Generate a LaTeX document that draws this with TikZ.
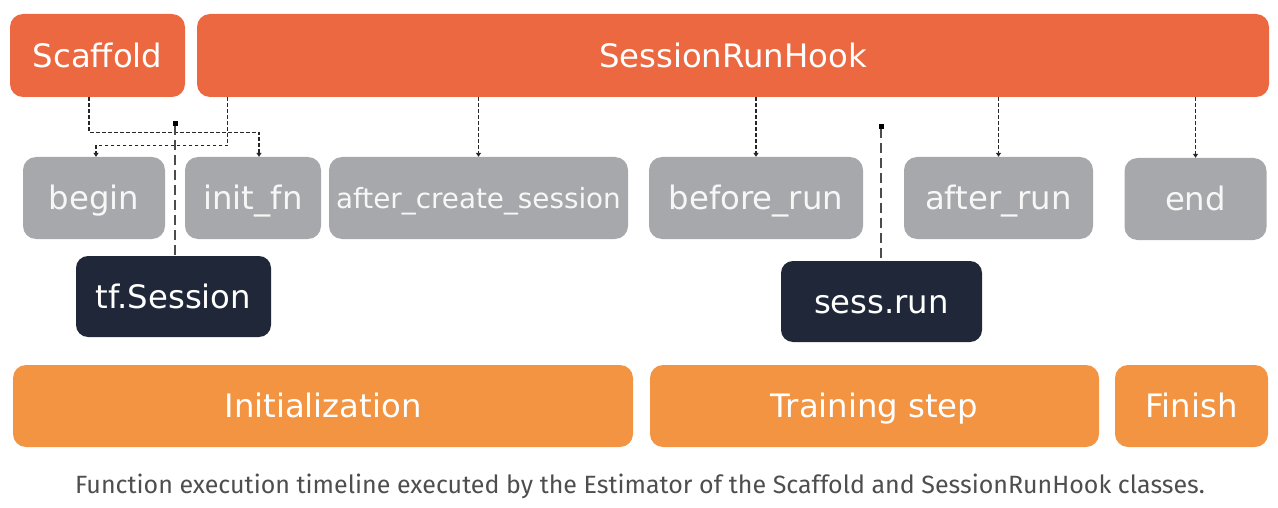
\documentclass[tikz,border=0pt]{standalone}
\usepackage{fontspec}
\setmainfont{DejaVu Sans}
\newfontfamily\capfont{Fira Sans}
\usetikzlibrary{arrows.meta}
\definecolor{topor}{HTML}{EC6841}
\definecolor{botor}{HTML}{F29442}
\definecolor{hookgray}{HTML}{A7A8AB}
\definecolor{navy}{HTML}{1F2738}
\definecolor{captxt}{HTML}{4E4E4E}
\tikzset{
  box/.style={rounded corners=13pt, inner sep=0pt, text=white,
    font=\fontsize{32.3}{36}\selectfont, text height=23.5pt, text depth=0pt},
  topbox/.style={box, fill=topor, minimum height=83pt},
  fnbox/.style={box, fill=hookgray, minimum height=82pt, text=white!97!black},
  sessbox/.style={box, fill=navy, minimum height=81pt, rounded corners=12pt},
  phasebox/.style={box, fill=botor, minimum height=82pt},
  conn/.style={draw=black!85, line width=1.2pt, dash pattern=on 3.5pt off 2.5pt,
    -{Triangle[width=5pt,length=4pt]}},
  callline/.style={draw=black!70, line width=1.8pt, dash pattern=on 10pt off 5pt,
    {Square[length=5pt,width=5pt,fill=black,color=black,sep=0pt]}-},
}
\begin{document}
\begin{tikzpicture}[x=1pt,y=-1pt]
\useasboundingbox (0,0) rectangle (1278,508);
% top row
\node[topbox, minimum width=175pt] (scaffold) at (97.5,55.5) {Scaffold};
\node[topbox, minimum width=1072pt] (hook) at (733,55.5) {SessionRunHook};
% function boxes
\node[fnbox, minimum width=142pt] (begin) at (94,198) {begin};
\node[fnbox, minimum width=136pt] (initfn) at (253,198) {init\_fn};
\node[fnbox, minimum width=299pt, font=\fontsize{27.8}{32}\selectfont, text height=20pt] (acs) at (478.5,198) {after\_create\_session};
\node[fnbox, minimum width=214pt] (beforerun) at (756,198) {before\_run};
\node[fnbox, minimum width=189pt] (afterrun) at (998.5,198) {after\_run};
\node[fnbox, minimum width=142pt] (endf) at (1195.5,199) {end};
% session boxes
\node[sessbox, minimum width=195pt] (tfs) at (173.5,296.5) {tf.Session};
\node[sessbox, minimum width=201pt] (sessrun) at (881.5,301.5) {sess.run};
% phases
\node[phasebox, minimum width=620pt] (init) at (323,406) {Initialization};
\node[phasebox, minimum width=449pt] (train) at (874.5,406) {Training step};
\node[phasebox, minimum width=153pt] (finish) at (1191.5,406) {Finish};
% caption
\node[inner sep=0pt, text=captxt, font=\capfont\fontsize{25}{30}\selectfont] (cap) at (640,486) {Function execution timeline executed by the Estimator of the Scaffold and SessionRunHook classes.};
% connectors
\draw[conn] ([xshift=-8.5pt]scaffold.south) -- ++(0,35) -| ([xshift=6pt]initfn.north);
\draw[conn] ([xshift=31pt]hook.south west) -- ++(0,48.5) -| ([xshift=2pt]begin.north);
\draw[conn] (hook.south -| acs.north) -- (acs.north);
\draw[conn] (hook.south -| beforerun.north) -- (beforerun.north);
\draw[conn] (hook.south -| afterrun.north) -- (afterrun.north);
\draw[conn] (hook.south -| endf.north) -- (endf.north);
% session call lines
\coordinate (tfsq) at (175,121);
\coordinate (srsq) at (881,124);
\draw[callline] (tfsq) -- (tfsq |- tfs.north);
\draw[callline] (srsq) -- (srsq |- sessrun.north);
\end{tikzpicture}
\end{document}
